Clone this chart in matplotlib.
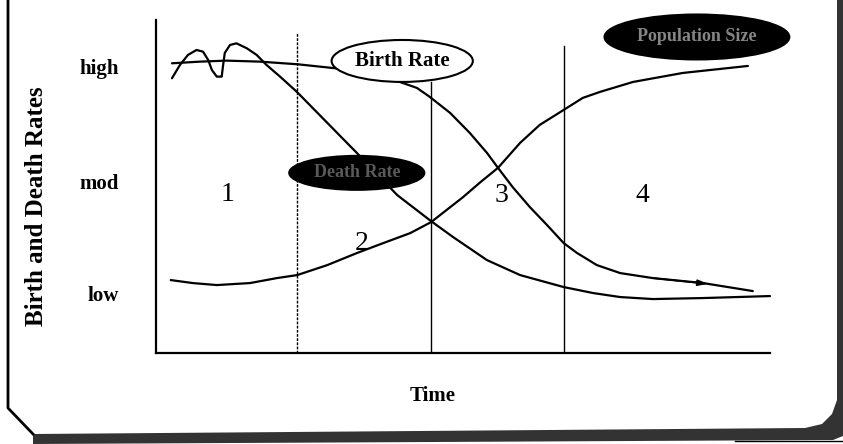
import numpy as np
import matplotlib
matplotlib.use("Agg")
import matplotlib.pyplot as plt
from matplotlib.patches import Ellipse, Polygon
from matplotlib.lines import Line2D

# ---------------- data (time 0-100, rate 0-100, arbitrary units) ----------------
birth_t = [2.6, 7.2, 11.5, 16.9, 23.1, 28.7, 34.9, 39.7, 42.5, 44.6, 47.9, 51.1, 53.9, 55.7, 58.1,
           60.9, 63.7, 66.4, 68.6, 71.8, 75.6, 80.9, 89.1, 97.2]
birth_r = [87.0, 87.5, 87.8, 87.5, 86.7, 85.6, 84.4, 81.4, 79.6, 76.9, 72.1, 66.1, 60.1, 55.6, 49.8,
           43.8, 38.4, 33.0, 30.0, 26.4, 24.0, 22.5, 21.0, 18.6]

death_t = [2.6, 3.9, 5.2, 6.6, 7.65, 8.5, 9.1, 9.9, 10.7, 10.9, 11.2, 12.05, 13.1, 14.8, 16.4, 18.0,
           20.2, 22.9, 32.7, 39.3, 44.8, 48.4, 53.9, 59.3, 66.4, 71.2, 75.6, 80.9, 89.1, 100.0]
death_r = [82.5, 86.5, 89.5, 91.0, 90.5, 88.0, 85.0, 83.0, 83.0, 86.0, 90.1, 92.5, 93.0, 91.5, 89.5, 86.5,
           83.0, 78.5, 60.1, 47.4, 39.6, 34.8, 27.9, 23.4, 19.8, 18.0, 16.8, 16.2, 16.5, 17.1]

pop_t = [2.4, 6.0, 9.9, 15.3, 19.7, 23.0, 27.9, 32.7, 37.0, 41.4, 44.8, 50.0, 52.9, 55.7, 59.3,
         62.5, 66.4, 69.5, 72.3, 77.7, 85.8, 96.4]
pop_r = [21.9, 21.0, 20.4, 21.0, 22.5, 23.4, 26.4, 30.0, 33.0, 36.0, 39.3, 46.8, 51.4, 55.6, 63.1,
         68.5, 73.0, 76.6, 78.4, 81.4, 84.1, 86.2]

stage_bounds = [23.0, 44.8, 66.4]
stage_tops = [96.0, 81.4, 92.2]
stage_labels = ["1", "2", "3", "4"]
stage_label_t = [11.7, 33.5, 56.3, 79.2]
stage_label_r = [47.6, 33.0, 47.4, 47.4]

level_values = [85.9, 51.4, 18.0]
level_labels = ["high", "mod", "low"]

bubble_texts = ["Birth Rate", "Death Rate", "Population Size"]
bubble_t = [40.1, 32.7, 88.1]
bubble_r = [87.7, 54.1, 94.9]
bubble_w = [23.0, 22.0, 30.1]
bubble_h = [12.6, 10.2, 13.5]
bubble_face = ["white", "black", "black"]
bubble_text_color = ["black", "#5a5a5a", "#858585"]

# ---------------- figure ----------------
W, H = 843, 444
fig = plt.figure(figsize=(W / 100, H / 100), dpi=100)
fig.patch.set_facecolor("white")

def px(x, y):
    return (x / W, 1 - y / H)

serif = ["Liberation Serif", "DejaVu Serif"]

# frame decoration (figure coords)
fig.add_artist(Line2D([px(8, 0)[0], px(8, 408)[0], px(33, 434)[0]],
                      [px(8, 0)[1], px(8, 408)[1], px(33, 434)[1]],
                      transform=fig.transFigure, color="black", lw=2))
band = [px(33, 434), px(805, 428), px(822, 424), px(832, 414), px(837, 400), px(837, 0),
        px(843, 0), px(843, 436), px(833, 440), px(33, 444)]
fig.add_artist(Polygon(band, closed=True, transform=fig.transFigure,
                       facecolor="#333333", edgecolor="none"))
fig.add_artist(Line2D([px(735, 441)[0], px(843, 441)[0]], [px(735, 441)[1], px(843, 441)[1]],
                      transform=fig.transFigure, color="black", lw=1))

ax = fig.add_axes([156 / W, 91 / H, 614 / W, 333 / H])
ax.set_xlim(0, 100)
ax.set_ylim(0, 100)
ax.set_facecolor("none")
for s in ["top", "right"]:
    ax.spines[s].set_visible(False)
for s in ["left", "bottom"]:
    ax.spines[s].set_linewidth(1.6)

ax.set_xticks([])
ax.set_yticks(level_values)
ax.set_yticklabels(level_labels, fontfamily=serif, fontweight="bold", fontsize=15)
ax.tick_params(axis="y", length=0, pad=27)

ax.set_ylabel("Birth and Death Rates", fontfamily=serif, fontweight="bold", fontsize=18)
ax.yaxis.set_label_coords(-0.176, 0.441)
ax.set_xlabel("Time", fontfamily=serif, fontweight="bold", fontsize=15, va="center")
ax.xaxis.set_label_coords(0.451, -0.129)

# stage boundaries
for i, (b, top) in enumerate(zip(stage_bounds, stage_tops)):
    ls = (0, (2, 1)) if i == 0 else "-"
    ax.plot([b, b], [0, top], color="black", lw=1.0, ls=ls, zorder=2)

# curves
for tt, rr in [(birth_t, birth_r), (death_t, death_r), (pop_t, pop_r)]:
    ax.plot(tt, rr, color="black", lw=1.6, zorder=3, solid_capstyle="round",
            solid_joinstyle="round", clip_on=False)

# arrowhead on birth rate tail
a0 = (birth_t[-3], birth_r[-3])
a1 = (birth_t[-2] + 0.1 * (birth_t[-1] - birth_t[-2]), birth_r[-2] + 0.1 * (birth_r[-1] - birth_r[-2]))
ax.annotate("", xy=a1, xytext=a0,
            arrowprops=dict(arrowstyle="-|>,head_length=0.6,head_width=0.18", color="black", lw=1.2,
                            shrinkA=0, shrinkB=0), zorder=4)

# stage numbers
for lab, t, r in zip(stage_labels, stage_label_t, stage_label_r):
    ax.text(t, r, lab, fontfamily=serif, fontsize=20, ha="center", va="center", zorder=5)

# bubbles
for txt, t, r, w, h, fc, tc in zip(bubble_texts, bubble_t, bubble_r, bubble_w, bubble_h,
                                     bubble_face, bubble_text_color):
    e = Ellipse((t, r), w, h, facecolor=fc, edgecolor="black", lw=1.5, zorder=6, clip_on=False)
    ax.add_patch(e)
    ax.text(t, r, txt, fontfamily=serif, fontweight="bold", fontsize=15 if fc == "white" else 13,
            ha="center", va="center", color=tc, zorder=7, clip_on=False)

fig.savefig("out.png", dpi=100)
